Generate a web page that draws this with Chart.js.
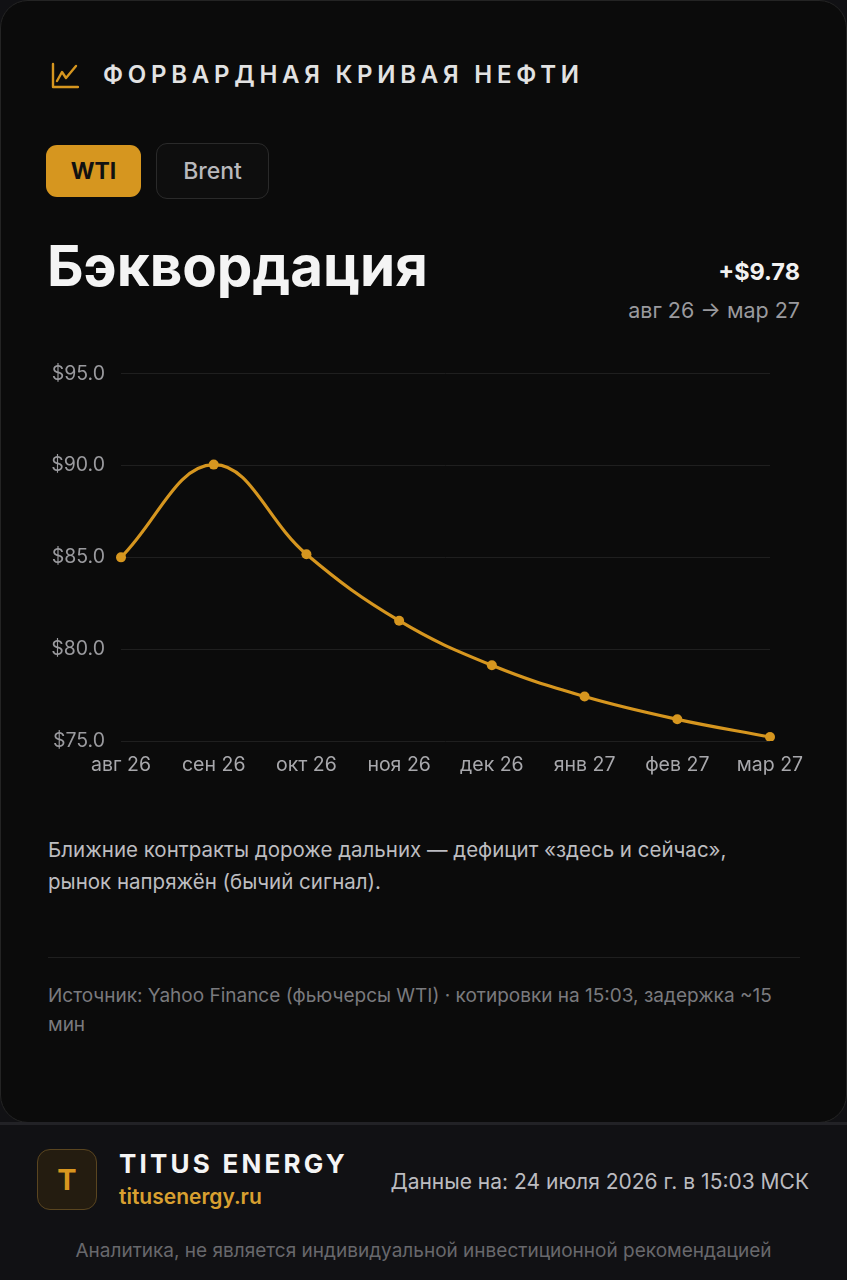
<!DOCTYPE html>
<html lang="ru">
<head>
<meta charset="utf-8">
<script src="https://cdn.jsdelivr.net/npm/chart.js@4"></script>
<style>
  html, body { margin:0; padding:0; }
  body { width:847px; height:1280px; background:#111114; font-family: Inter, "Noto Sans", sans-serif; position:relative; overflow:hidden; }
  .card { position:absolute; left:0; top:0; width:845px; height:1121px; background:#0b0b0b; border:1px solid #242424; border-radius:28px; }
  .sep { position:absolute; left:0; top:1122px; width:847px; height:3px; background:#222226; }
  .abs { position:absolute; white-space:nowrap; }
  .title { left:103px; top:60px; font-size:24px; font-weight:600; letter-spacing:4.75px; color:#e2e2e2; }
  .btn { position:absolute; border-radius:11px; display:flex; align-items:center; justify-content:center; box-sizing:border-box; }
  .wti { left:46px; top:145px; width:95px; height:52px; background:#d6961f; color:#111; font-weight:700; font-size:23px; }
  .brent { left:156px; top:143px; width:113px; height:56px; background:#0e0e0e; border:1.5px solid #2a2a2a; color:#b8b8bc; font-weight:500; font-size:23px; }
  .big { left:47px; top:231px; font-size:56.5px; font-weight:700; color:#f4f4f4; }
  .delta { right:47px; top:257px; font-size:23.5px; font-weight:700; color:#f2f2f2; }
  .range { right:47px; top:297px; font-size:21.5px; color:#9a9a9e; }
  .desc { left:48px; top:834px; font-size:20.5px; line-height:32px; color:#bdbdc0; }
  .div { position:absolute; left:48px; top:957px; width:752px; height:1px; background:#1f1f1f; }
  .src { left:48px; top:981px; font-size:19px; line-height:29px; color:#7a7a7e; }
  .logo { position:absolute; left:37px; top:1149px; width:60px; height:61px; box-sizing:border-box; border:1.5px solid #5a4520; border-radius:13px; background:#241c10; display:flex; align-items:center; justify-content:center; color:#d9961f; font-size:29px; font-weight:700; }
  .brand { left:119px; top:1148px; font-size:26px; font-weight:700; letter-spacing:3.2px; color:#f4f4f4; }
  .url { left:119px; top:1184px; font-size:21px; font-weight:600; color:#d9a030; }
  .date { right:38px; top:1169px; font-size:21px; color:#bcbcc0; }
  .disc { left:0; width:847px; text-align:center; top:1239px; font-size:19px; color:#68686c; }
  #wrap { position:absolute; left:30px; top:346px; width:787px; height:439px; }
</style>
</head>
<body>
<div class="card"></div>
<div class="sep"></div>

<svg class="abs" style="left:51px;top:62px" width="28" height="27" viewBox="0 0 28 27">
  <path d="M2 2 V25 H27" fill="none" stroke="#d6961f" stroke-width="2.4" stroke-linecap="round" stroke-linejoin="round"/>
  <path d="M6 19 L11 10 L15 16 L25 4" fill="none" stroke="#d6961f" stroke-width="2.4" stroke-linecap="round" stroke-linejoin="round"/>
</svg>
<div class="abs title">ФОРВАРДНАЯ КРИВАЯ НЕФТИ</div>

<div class="btn wti">WTI</div>
<div class="btn brent">Brent</div>

<div class="abs big">Бэквордация</div>
<div class="abs delta">+$9.78</div>
<div class="abs range">авг 26 → мар 27</div>

<div id="wrap"><canvas id="c"></canvas></div>

<div class="abs desc">Ближние контракты дороже дальних — дефицит «здесь и сейчас»,<br>рынок напряжён (бычий сигнал).</div>
<div class="div"></div>
<div class="abs src">Источник: Yahoo Finance (фьючерсы WTI) · котировки на 15:03, задержка ~15<br>мин</div>

<div class="logo">T</div>
<div class="abs brand">TITUS ENERGY</div>
<div class="abs url">titusenergy.ru</div>
<div class="abs date">Данные на: 24 июля 2026 г. в 15:03 МСК</div>
<div class="abs disc">Аналитика, не является индивидуальной инвестиционной рекомендацией</div>

<script>
const months = ["авг 26", "сен 26", "окт 26", "ноя 26", "дек 26", "янв 27", "фев 27", "мар 27"];
const wtiPrices = [85.00, 90.05, 85.17, 81.55, 79.12, 77.42, 76.18, 75.22];
const yTicks = [75, 80, 85, 90, 95];

const gold = "#d6961f";
new Chart(document.getElementById("c"), {
  type: "line",
  data: {
    labels: months,
    datasets: [{
      data: wtiPrices,
      borderColor: gold,
      backgroundColor: gold,
      borderWidth: 3.2,
      tension: 0.4,
      pointRadius: 5,
      pointBackgroundColor: gold,
      pointBorderWidth: 0,
      fill: false
    }]
  },
  options: {
    responsive: true,
    maintainAspectRatio: false,
    animation: false,
    layout: { padding: { left: 0, right: 47, top: 9, bottom: 0 } },
    plugins: { legend: { display: false }, tooltip: { enabled: false } },
    scales: {
      x: {
        offset: false,
        grid: { display: false, drawTicks: false },
        border: { display: false },
        ticks: { color: "#a8a8ac", font: { family: "Inter", size: 19.5 }, padding: 12, maxRotation: 0, autoSkip: false },
        afterFit: s => { s.height = 44; }
      },
      y: {
        min: 75, max: 95,
        afterBuildTicks: s => { s.ticks = yTicks.map(v => ({ value: v })); },
        grid: { color: "#1f1f1f", lineWidth: 1, drawTicks: false },
        border: { display: false },
        ticks: { color: "#9a9a9e", font: { family: "Inter", size: 19.5 }, padding: 16, callback: v => "$" + Number(v).toFixed(1) },
        afterFit: s => { s.width = 91; }
      }
    }
  }
});
</script>
</body>
</html>
